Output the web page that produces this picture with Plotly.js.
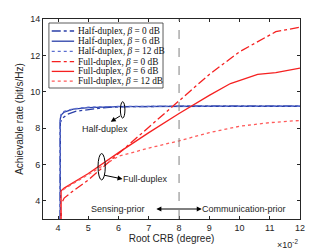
<!DOCTYPE html>
<html><head><meta charset="utf-8">
<script src="https://cdn.plot.ly/plotly-3.0.1.min.js"></script>
<style>body{margin:0;padding:0;background:#fff}#c{width:332px;height:249px}</style>
</head><body><div id="c"></div>
<script>
// Root CRB in units of 1e-2 degree
const hd0X = [4.07, 4.07, 4.15, 4.3, 4.6, 5.0, 5.5, 6.0, 7.0, 8.0, 9.0, 10.0, 11.0, 12.0];
const hd0Y = [3.0, 8.3, 8.55, 8.75, 8.93, 9.03, 9.12, 9.17, 9.2, 9.2, 9.2, 9.2, 9.2, 9.2];
const hd6X = [4.07, 4.07, 4.1, 4.2, 4.5, 5.0, 6.0, 7.0, 8.0, 9.0, 10.0, 11.0, 12.0];
const hd6Y = [3.0, 8.5, 8.72, 8.88, 9.04, 9.13, 9.18, 9.2, 9.2, 9.2, 9.2, 9.2, 9.2];
const hd12X = [4.07, 4.07, 4.1, 4.2, 4.5, 5.0, 6.0, 7.0, 8.0, 9.0, 10.0, 11.0, 12.0];
const hd12Y = [3.0, 8.55, 8.76, 8.92, 9.06, 9.15, 9.19, 9.2, 9.2, 9.2, 9.2, 9.2, 9.2];
const fd0X = [4.1, 4.1, 4.2, 4.5, 5.0, 6.0, 7.0, 8.0, 9.0, 10.0, 11.2, 12.0];
const fd0Y = [3.0, 3.8, 4.15, 4.55, 5.15, 6.6, 8.05, 9.5, 10.95, 12.2, 13.3, 13.55];
const fd6X = [4.1, 4.1, 4.2, 5.0, 6.0, 7.0, 8.0, 9.0, 9.7, 10.6, 11.2, 12.0];
const fd6Y = [3.0, 4.55, 4.7, 5.5, 6.65, 7.75, 8.8, 9.8, 10.45, 10.95, 11.05, 11.3];
const fd12X = [4.1, 4.1, 4.2, 5.0, 6.0, 7.0, 8.0, 9.0, 10.0, 11.0, 12.0];
const fd12Y = [3.0, 4.5, 4.65, 5.45, 6.45, 6.9, 7.3, 7.75, 8.1, 8.3, 8.42];
const xTicks = [4, 5, 6, 7, 8, 9, 10, 11, 12];
const yTicks = [4, 6, 8, 10, 12, 14];
const names = ['Half-duplex, <i>β</i> = 0 dB','Half-duplex, <i>β</i> = 6 dB','Half-duplex, <i>β</i> = 12 dB',
               'Full-duplex, <i>β</i> = 0 dB','Full-duplex, <i>β</i> = 6 dB','Full-duplex, <i>β</i> = 12 dB'];

const blue = '#2a3fa8', blueL = '#5b6fd0', red = '#f52020', redL = '#ff5a5a';
const styles = [[blue,'dashdot'],[blue,'solid'],[blueL,'dot'],[red,'dashdot'],[red,'solid'],[redL,'dot']];
const series = [[hd0X,hd0Y],[hd6X,hd6Y],[hd12X,hd12Y],[fd0X,fd0Y],[fd6X,fd6Y],[fd12X,fd12Y]];
const data = series.map((s, i) => ({x:s[0], y:s[1], name:names[i], type:'scatter', mode:'lines',
  showlegend:false, line:{color:styles[i][0], width:1.3, dash:styles[i][1]}}));

const axisCommon = {showgrid:false, zeroline:false, showline:true, linecolor:'#262626', linewidth:1,
  mirror:'allticks', ticks:'inside', ticklen:3, tickcolor:'#262626',
  tickfont:{family:'Liberation Sans, Arial', size:9, color:'#262626'}};
const af = {family:'Liberation Sans, Arial', size:9, color:'#262626'};

// custom compact legend (paper coordinates)
const legRows = [0.94, 0.889, 0.838, 0.787, 0.738, 0.689];
const shapes = [
  {type:'line', x0:8, x1:8, y0:3, y1:14, xref:'x', yref:'y', line:{color:'#808080', width:1, dash:'dash'}},
  {type:'circle', x0:6.06, x1:6.21, y0:8.55, y1:9.45, xref:'x', yref:'y', line:{color:'#000', width:1}},
  {type:'circle', x0:5.32, x1:5.56, y0:5.15, y1:6.6, xref:'x', yref:'y', line:{color:'#000', width:1}},
  {type:'rect', x0:0.023, x1:0.467, y0:0.655, y1:0.98, xref:'paper', yref:'paper',
    fillcolor:'#fff', line:{color:'#333', width:0.8}}
];
const annotations = [
  {x:5.74, y:8.35, ax:6.1, ay:8.72, axref:'x', ayref:'y', xref:'x', yref:'y', text:'', showarrow:true,
    arrowhead:2, arrowsize:1, arrowwidth:1, arrowcolor:'#000'},
  {x:5.54, y:7.97, xref:'x', yref:'y', text:'Half-duplex', showarrow:false, font:af},
  {x:6.13, y:5.2, ax:5.49, ay:5.42, axref:'x', ayref:'y', xref:'x', yref:'y', text:'', showarrow:true,
    arrowhead:2, arrowsize:1, arrowwidth:1, arrowcolor:'#000'},
  {x:6.89, y:5.2, xref:'x', yref:'y', text:'Full-duplex', showarrow:false, font:af},
  {x:8.75, y:3.55, ax:7.2, ay:3.55, axref:'x', ayref:'y', xref:'x', yref:'y', text:'', showarrow:true,
    arrowhead:2, startarrowhead:2, arrowside:'end+start', arrowsize:1, arrowwidth:1, arrowcolor:'#000'},
  {x:5.99, y:3.55, xref:'x', yref:'y', text:'Sensing-prior', showarrow:false, font:af},
  {x:10.16, y:3.55, xref:'x', yref:'y', text:'Communication-prior', showarrow:false, font:af},
  {x:1.0, y:-0.085, xref:'paper', yref:'paper', xanchor:'right', yanchor:'top', text:'×10<sup>-2</sup>',
    showarrow:false, font:af}
];
names.forEach((n, i) => {
  shapes.push({type:'line', x0:0.034, x1:0.121, y0:legRows[i], y1:legRows[i], xref:'paper', yref:'paper',
    line:{color:styles[i][0], width:1.3, dash:styles[i][1]}});
  annotations.push({x:0.127, y:legRows[i], xref:'paper', yref:'paper', xanchor:'left', yanchor:'middle',
    text:n, showarrow:false, font:{family:'Liberation Serif, Times New Roman', size:9.3, color:'#111'}});
});

const layout = {
  width:332, height:249,
  margin:{l:43, r:32, t:19, b:30},
  paper_bgcolor:'#fff', plot_bgcolor:'#fff',
  showlegend:false,
  xaxis:Object.assign({}, axisCommon, {range:[3.5, 12], tickvals:xTicks,
    title:{text:'Root CRB (degree)', font:{family:'Liberation Sans, Arial', size:10, color:'#262626'}, standoff:2}}),
  yaxis:Object.assign({}, axisCommon, {range:[3, 14], tickvals:yTicks,
    title:{text:'Achievable rate (bit/s/Hz)', font:{family:'Liberation Sans, Arial', size:10, color:'#262626'}, standoff:4}}),
  shapes:shapes,
  annotations:annotations
};
Plotly.newPlot('c', data, layout, {staticPlot:true, displayModeBar:false});
</script></body></html>
